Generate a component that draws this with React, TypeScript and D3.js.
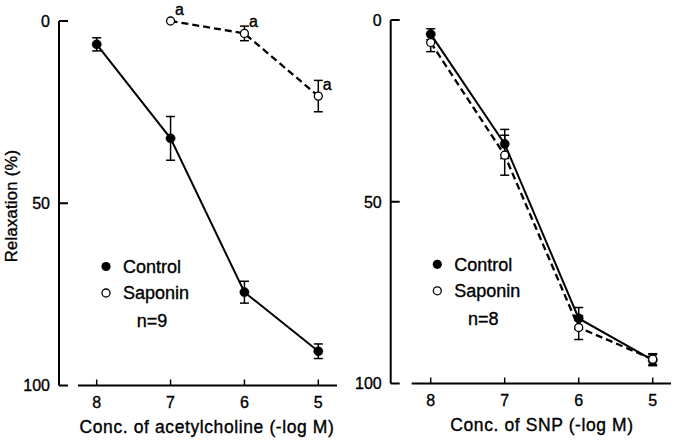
import React from "react";
import * as d3 from "d3";

// ---------- data ----------
const concTicks = [8, 7, 6, 5];
const yTicks = [0, 50, 100];

// Left panel: acetylcholine
const achConc = [8, 7, 6, 5];
const achControl = [6.4, 32.2, 74.4, 90.6];
const achControlErr = [1.8, 6.0, 3.0, 2.0];
const achSapConc = [7, 6, 5];
const achSaponin = [0, 3.4, 20.6];
const achSaponinErr = [0, 2.0, 4.3];
const achSapLabels = ["a", "a", "a"];

// Right panel: SNP
const snpConc = [8, 7, 6, 5];
const snpControl = [3.9, 34.1, 82.1, 93.6];
const snpControlErr = [1.5, 4.0, 3.0, 1.5];
const snpSaponin = [6.2, 37.2, 84.6, 93.3];
const snpSaponinErr = [2.5, 5.5, 3.3, 1.5];

const legendLabels = ["Control", "Saponin"];

type Series = { x: number[]; y: number[]; err: number[]; filled: boolean; dashed: boolean; labels?: string[] };

type Panel = {
  axisX: number;
  y0: number;
  y100: number;
  x8: number;
  x5: number;
  xLineStart: number;
  xLineEnd: number;
  title: string;
  titleX: number;
  legendX: number;
  legendY: number;
  nLabel: string;
  series: Series[];
  tickLabelY: number;
  titleY: number;
};

const panels: Panel[] = [
  {
    axisX: 59,
    y0: 21,
    y100: 385.5,
    x8: 96.7,
    x5: 318.3,
    xLineStart: 78,
    xLineEnd: 337,
    title: "Conc. of acetylcholine (-log M)",
    titleX: 207,
    legendX: 106,
    legendY: 266.5,
    nLabel: "n=9",
    tickLabelY: 408,
    titleY: 433,
    series: [
      { x: achConc, y: achControl, err: achControlErr, filled: true, dashed: false },
      { x: achSapConc, y: achSaponin, err: achSaponinErr, filled: false, dashed: true, labels: achSapLabels },
    ],
  },
  {
    axisX: 390.7,
    y0: 20,
    y100: 383.5,
    x8: 430.7,
    x5: 652.7,
    xLineStart: 411.7,
    xLineEnd: 671,
    title: "Conc. of SNP (-log M)",
    titleX: 542,
    legendX: 437.3,
    legendY: 264.3,
    nLabel: "n=8",
    tickLabelY: 406,
    titleY: 431,
    series: [
      { x: snpConc, y: snpControl, err: snpControlErr, filled: true, dashed: false },
      { x: snpConc, y: snpSaponin, err: snpSaponinErr, filled: false, dashed: true },
    ],
  },
];

const FONT = "Liberation Sans, Arial, Helvetica, sans-serif";
const TXT = { fontFamily: FONT, fill: "#000", stroke: "#000", strokeWidth: 0.35 } as const;

function PanelView({ p }: { p: Panel }) {
  const y = d3.scaleLinear().domain([0, 100]).range([p.y0, p.y100]);
  const x = d3.scaleLinear().domain([8, 5]).range([p.x8, p.x5]);
  const line = d3
    .line<[number, number]>()
    .x((d) => x(d[0]))
    .y((d) => y(d[1]));
  const r = 4.6;
  const cap = 4.5;
  return (
    <g>
      {/* y axis */}
      <line x1={p.axisX} x2={p.axisX} y1={y(0)} y2={y(100)} stroke="#000" strokeWidth={2} />
      {yTicks.map((t) => (
        <g key={"yt" + t}>
          <line x1={p.axisX} x2={p.axisX + 9} y1={y(t)} y2={y(t)} stroke="#000" strokeWidth={2} />
          <text x={p.axisX - 9} y={y(t)} dy="0.36em" textAnchor="end" fontSize={16} {...TXT}>
            {t}
          </text>
        </g>
      ))}
      {/* x axis */}
      <line x1={p.xLineStart} x2={p.xLineEnd} y1={y(100)} y2={y(100)} stroke="#000" strokeWidth={2} />
      {concTicks.map((t) => (
        <g key={"xt" + t}>
          <line x1={x(t)} x2={x(t)} y1={y(100)} y2={y(100) - 6} stroke="#000" strokeWidth={1.5} />
          <text x={x(t)} y={p.tickLabelY} textAnchor="middle" fontSize={16} {...TXT}>
            {t}
          </text>
        </g>
      ))}
      <text x={p.titleX} y={p.titleY} textAnchor="middle" fontSize={17.5} letterSpacing={0.6} {...TXT}>
        {p.title}
      </text>
      {/* series */}
      {p.series.map((s, si) => {
        const pts: [number, number][] = s.x.map((c, i) => [c, s.y[i]]);
        return (
          <g key={"s" + si}>
            <path
              d={line(pts) || ""}
              fill="none"
              stroke="#000"
              strokeWidth={s.dashed ? 2.3 : 2}
              strokeDasharray={s.dashed ? "7,4" : undefined}
            />
            {pts.map((d, i) =>
              s.err[i] > 0 ? (
                <g key={"e" + i}>
                  <line x1={x(d[0])} x2={x(d[0])} y1={y(d[1] - s.err[i])} y2={y(d[1] + s.err[i])} stroke="#000" strokeWidth={1.5} />
                  <line x1={x(d[0]) - cap} x2={x(d[0]) + cap} y1={y(d[1] - s.err[i])} y2={y(d[1] - s.err[i])} stroke="#000" strokeWidth={1.5} />
                  <line x1={x(d[0]) - cap} x2={x(d[0]) + cap} y1={y(d[1] + s.err[i])} y2={y(d[1] + s.err[i])} stroke="#000" strokeWidth={1.5} />
                </g>
              ) : null
            )}
            {pts.map((d, i) => (
              <circle
                key={"c" + i}
                cx={x(d[0])}
                cy={y(d[1])}
                r={s.filled ? r : r - 0.6}
                fill={s.filled ? "#000" : "#fff"}
                stroke="#000"
                strokeWidth={s.filled ? 0.5 : 1.3}
              />
            ))}
            {s.labels &&
              pts.map((d, i) => (
                <text key={"l" + i} x={x(d[0]) + 9} y={y(d[1]) - 6} textAnchor="middle" fontSize={16} {...TXT}>
                  {s.labels![i]}
                </text>
              ))}
          </g>
        );
      })}
      {/* legend */}
      <circle cx={p.legendX} cy={p.legendY} r={4.6} fill="#000" />
      <text x={p.legendX + 17} y={p.legendY} dy="0.36em" fontSize={18} {...TXT}>
        {legendLabels[0]}
      </text>
      <circle cx={p.legendX} cy={p.legendY + 26.5} r={4} fill="#fff" stroke="#000" strokeWidth={1.3} />
      <text x={p.legendX + 17} y={p.legendY + 26.5} dy="0.36em" fontSize={18} {...TXT}>
        {legendLabels[1]}
      </text>
      <text x={p.legendX + 46} y={p.legendY + 54} dy="0.36em" textAnchor="middle" fontSize={18} {...TXT}>
        {p.nLabel}
      </text>
    </g>
  );
}

export default function App() {
  return (
    <svg width={681} height={440} style={{ position: "absolute", left: 0, top: 0, background: "#fff" }}>
      <rect width={681} height={440} fill="#fff" />
      {panels.map((p, i) => (
        <PanelView key={i} p={p} />
      ))}
      <text transform="translate(17,206) rotate(-90)" textAnchor="middle" fontSize={16.5} letterSpacing={0.3} {...TXT}>
        Relaxation (%)
      </text>
    </svg>
  );
}
